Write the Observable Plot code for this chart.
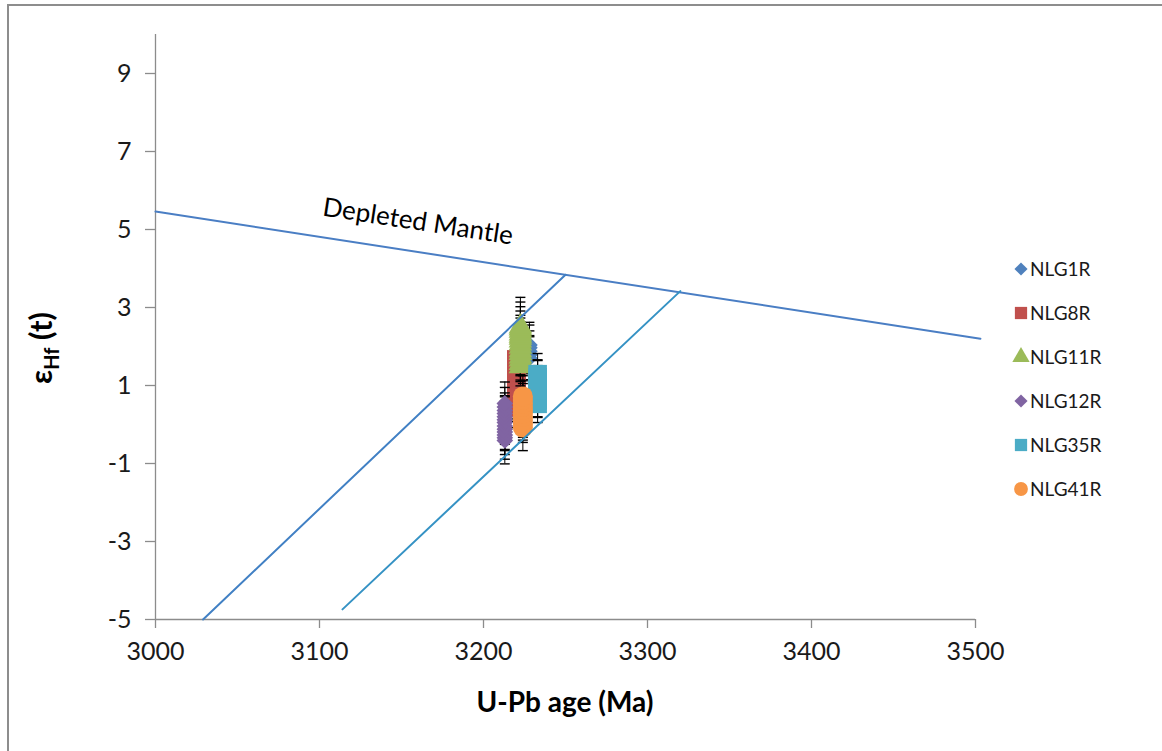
<!DOCTYPE html>
<html>
<head>
<meta charset="utf-8">
<script src="https://cdn.jsdelivr.net/npm/d3@7"></script>
<script src="https://cdn.jsdelivr.net/npm/@observablehq/plot@0.6"></script>
<style>
  html, body { margin: 0; padding: 0; background: #fff; overflow: hidden; }
  #wrap { position: relative; width: 1162px; height: 751px; overflow: hidden; }
  #frame { position: absolute; left: 7px; top: 4px; width: 1200px; height: 800px;
           border-left: 2px solid #8d8d8d; border-top: 2px solid #8d8d8d; }
  #chart { position: absolute; left: 0; top: 0; }
</style>
</head>
<body>
<div id="wrap"><div id="frame"></div><div id="chart"></div></div>
<script>
// Samples: name, colour, marker, U-Pb age (Ma)
const seriesNames = ["NLG1R", "NLG8R", "NLG11R", "NLG12R", "NLG35R", "NLG41R"];
const seriesColors = ["#4F81BD", "#C0504D", "#9BBB59", "#8064A2", "#4BACC6", "#F79646"];
const seriesSymbols = ["diamond2", "square", "triangle", "diamond2", "square", "circle"];
const seriesAges = [3228, 3220, 3222.5, 3213, 3233, 3224];

// εHf(t) per zircon spot and its 2σ uncertainty
const nlg1rEhf = [1.70, 1.79, 1.88, 1.97, 2.04];
const nlg1rErr = [0.55, 0.49, 0.52, 0.58, 0.58];
const nlg8rEhf = [0.42, 0.55, 0.66, 0.78, 0.87, 0.98, 1.10, 1.21, 1.33, 1.45, 1.56, 1.67];
const nlg8rErr = [0.50, 0.47, 0.52, 0.49, 0.51, 0.46, 0.50, 0.53, 0.48, 0.50, 0.47, 0.52];
const nlg11rEhf = [1.49, 1.57, 1.66, 1.74, 1.83, 1.90, 1.99, 2.07, 2.15, 2.22, 2.27, 2.33, 2.40, 2.46, 2.51];
const nlg11rErr = [0.50, 0.47, 0.52, 0.49, 0.55, 0.46, 0.50, 0.53, 0.48, 0.51, 0.53, 0.58, 0.62, 0.68, 0.75];
const nlg12rEhf = [-0.41, -0.34, -0.27, -0.19, -0.12, -0.04, 0.05, 0.12, 0.20, 0.28, 0.36, 0.45, 0.54];
const nlg12rErr = [0.60, 0.55, 0.50, 0.48, 0.52, 0.47, 0.50, 0.49, 0.51, 0.46, 0.45, 0.50, 0.55];
const nlg35rEhf = [0.53, 0.62, 0.70, 0.79, 0.88, 0.97, 1.05, 1.13, 1.21, 1.29];
const nlg35rErr = [0.48, 0.44, 0.50, 0.47, 0.52, 0.49, 0.46, 0.51, 0.45, 0.53];
const nlg41rEhf = [-0.08, 0.01, 0.10, 0.19, 0.28, 0.37, 0.45, 0.54, 0.63, 0.72];
const nlg41rErr = [0.59, 0.47, 0.50, 0.52, 0.48, 0.50, 0.46, 0.51, 0.49, 0.53];

// Reference lines
const dmAge = [3000, 3503];
const dmEhf = [5.46, 2.20];
const crust1Age = [3029, 3250];
const crust1Ehf = [-5.0, 3.84];
const crust2Age = [3114, 3320];
const crust2Ehf = [-4.74, 3.42];
const dmLabel = "Depleted Mantle";
const dmLabelAge = 3160;
const dmLabelEhf = 5.2;

// Axes
const xTicks = [3000, 3100, 3200, 3300, 3400, 3500];
const yTicks = [-5, -3, -1, 1, 3, 5, 7, 9];
const xDomain = [3000, 3500];
const yDomain = [-5, 10];
const xTitle = "U-Pb age (Ma)";

const ehfLists = [nlg1rEhf, nlg8rEhf, nlg11rEhf, nlg12rEhf, nlg35rEhf, nlg41rEhf];
const errLists = [nlg1rErr, nlg8rErr, nlg11rErr, nlg12rErr, nlg35rErr, nlg41rErr];
const markerR = [7.5, 10.5, 8.8, 7.5, 10.5, 10];

const seriesRows = seriesNames.map((name, i) =>
  ehfLists[i].map((v, j) => ({series: name, age: seriesAges[i], ehf: v, err: errLists[i][j]}))
);
const lineRows = (ages, vals) => ages.map((a, i) => ({age: a, ehf: vals[i]}));

// Horizontal error-bar cap, fixed pixel width
const capSymbol = { draw(ctx) { ctx.moveTo(-5, 0); ctx.lineTo(5, 0); } };

const FONT = "Lato, 'Open Sans', sans-serif";
const AXIS_GREY = "#8c8c8c";

const marks = [
  Plot.ruleX([xDomain[0]], {y1: yDomain[0], y2: yDomain[1], stroke: AXIS_GREY, strokeWidth: 1.3}),
  Plot.ruleY([yDomain[0]], {x1: xDomain[0], x2: xDomain[1], stroke: AXIS_GREY, strokeWidth: 1.3}),
  Plot.axisX({ticks: xTicks, tickSize: 9, tickPadding: 14, fontSize: 25, tickFormat: d => String(d), label: null}),
  Plot.axisY({ticks: yTicks, tickSize: 10, tickPadding: 14, fontSize: 25, tickFormat: d => String(d), label: null})
];

seriesRows.forEach((rows, i) => {
  marks.push(
    Plot.ruleX(rows, {x: "age", y1: d => d.ehf - d.err, y2: d => d.ehf + d.err, stroke: "#000", strokeWidth: 1}),
    Plot.dot(rows, {x: "age", y: d => d.ehf - d.err, symbol: capSymbol, stroke: "#000", strokeWidth: 1.4, r: 5}),
    Plot.dot(rows, {x: "age", y: d => d.ehf + d.err, symbol: capSymbol, stroke: "#000", strokeWidth: 1.4, r: 5}),
    Plot.dot(rows, {x: "age", y: "ehf", symbol: seriesSymbols[i], fill: seriesColors[i], stroke: "none", r: markerR[i]})
  );
});

marks.push(
  Plot.line(lineRows(dmAge, dmEhf), {x: "age", y: "ehf", stroke: "#4A7EC4", strokeWidth: 2}),
  Plot.line(lineRows(crust1Age, crust1Ehf), {x: "age", y: "ehf", stroke: "#4180C4", strokeWidth: 2}),
  Plot.line(lineRows(crust2Age, crust2Ehf), {x: "age", y: "ehf", stroke: "#3592C4", strokeWidth: 2}),
  Plot.text([dmLabel], {x: dmLabelAge, y: dmLabelEhf, text: d => d, rotate: 8.7, fontSize: 26, fill: "#000"})
);

const chart = Plot.plot({
  width: 1162,
  height: 751,
  marginLeft: 155,
  marginRight: 187,
  marginTop: 34,
  marginBottom: 132,
  x: {domain: xDomain},
  y: {domain: yDomain},
  style: {fontFamily: FONT, color: "#1a1a1a", background: "transparent", overflow: "visible"},
  marks
});

const svg = d3.select(chart);
svg.selectAll('[aria-label="x-axis tick"], [aria-label="y-axis tick"]').attr("stroke", AXIS_GREY).attr("stroke-width", 1.3);

// y-axis title: εHf (t)
const yt = svg.append("text")
  .attr("transform", "translate(52,348) rotate(-90)")
  .attr("text-anchor", "middle")
  .attr("font-family", FONT)
  .attr("font-weight", "bold")
  .attr("font-size", 31)
  .attr("fill", "#000");
yt.append("tspan").text("ε");
yt.append("tspan").attr("font-size", 20).attr("dy", 7).text("Hf");
yt.append("tspan").attr("dy", -7).text(" (t)");

// x-axis title
svg.append("text")
  .attr("x", 565).attr("y", 712)
  .attr("text-anchor", "middle")
  .attr("font-family", FONT)
  .attr("font-weight", "bold")
  .attr("font-size", 28)
  .attr("fill", "#000")
  .text(xTitle);

// Legend
const legend = svg.append("g")
  .attr("font-family", FONT).attr("font-size", 19).attr("fill", "#1a1a1a")
  .attr("text-anchor", "start");
const legendSymbols = {diamond2: d3.symbolDiamond2, square: d3.symbolSquare, triangle: d3.symbolTriangle, circle: d3.symbolCircle};
const legendSize = {diamond2: 110, square: 150, triangle: 130, circle: 150};
seriesNames.forEach((name, i) => {
  const y = 269 + i * 44;
  const s = seriesSymbols[i];
  legend.append("path")
    .attr("transform", `translate(1021,${y})`)
    .attr("d", d3.symbol(legendSymbols[s], legendSize[s])())
    .attr("fill", seriesColors[i]);
  legend.append("text").attr("x", 1030).attr("y", y).attr("dy", "0.36em")
    .attr("text-anchor", "start").text(name);
});

document.getElementById("chart").appendChild(chart);
</script>
</body>
</html>
